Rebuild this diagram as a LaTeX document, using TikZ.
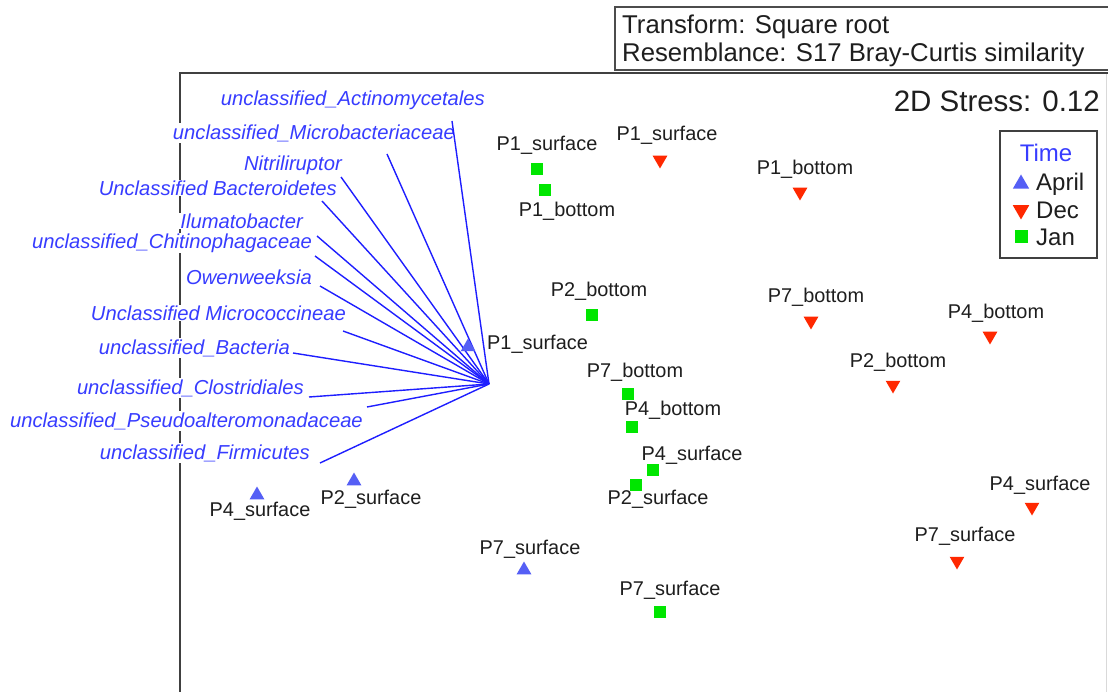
\documentclass[tikz,border=0pt]{standalone}
\usepackage{fontspec}
\setmainfont{Liberation Sans}
\usetikzlibrary{shapes.geometric}
\definecolor{vblue}{RGB}{55,60,255}
\definecolor{lblue}{RGB}{30,30,255}
\definecolor{tblue}{RGB}{85,95,245}
\definecolor{dred}{RGB}{255,40,0}
\definecolor{jgreen}{RGB}{0,230,0}
\definecolor{txt}{RGB}{30,30,30}
\begin{document}
\begin{tikzpicture}[x=1pt,y=-1pt,
  lbl/.style={font=\fontsize{19.9}{22}\selectfont, text=txt, inner sep=0pt},
  vlbl/.style={font=\fontsize{20.2}{22}\selectfont\itshape, text=vblue, fill=white, inner sep=1pt, anchor=east},
  vec/.style={draw=lblue, line width=1.4pt},
  sqm/.style={rectangle, fill=jgreen, minimum size=12pt, inner sep=0pt},
  upm/.style={regular polygon, regular polygon sides=3, fill=tblue, minimum size=17pt, inner sep=0pt},
  dnm/.style={regular polygon, regular polygon sides=3, shape border rotate=180, fill=dred, minimum size=17pt, inner sep=0pt},
  frame/.style={draw=black!75, line width=1.6pt},
  ttl/.style={font=\fontsize{25.7}{28}\selectfont, text=txt, anchor=west, inner sep=0pt},
  legtxt/.style={font=\fontsize{24}{26}\selectfont, text=txt, anchor=west, inner sep=0pt}
]
\useasboundingbox (0,0) rectangle (1108,692);
\fill[white] (0,0) rectangle (1108,692);
% frame
\draw[frame] (180,692) -- (180,73) -- (1108,73);
\draw[black!15, line width=1pt] (1106,74) -- (1106,692);
% title box
\draw[draw=black!70, line width=1.4pt] (615,7) rectangle (1112,70);
\node[ttl] (t1) at (622,27) {Transform: Square root};
\node[ttl] (t2) at (622,55) {Resemblance: S17 Bray-Curtis similarity};
\node[font=\fontsize{29.5}{32}\selectfont, text=txt, anchor=east, inner sep=0pt] (stress) at (1100,101) {2D Stress: 0.12};
% legend
\draw[draw=black!75, line width=1.4pt] (1000,131) rectangle (1097,258);
\node[font=\fontsize{24}{26}\selectfont, text=vblue, inner sep=0pt] (lt) at (1046,153) {Time};
\node[upm, minimum size=19pt] (lma) at (1021,184) {};
\node[legtxt] (lta) at (1036,184) {April};
\node[dnm, minimum size=19pt] (lmd) at (1021,210) {};
\node[legtxt] (ltd) at (1036,210) {Dec};
\node[sqm, minimum size=13pt] (lmj) at (1021,237) {};
\node[legtxt] (ltj) at (1036,237) {Jan};
% vector labels
\node[vlbl] (v1) at (486,100) {unclassified\_Actinomycetales};
\node[vlbl] (v2) at (456,133) {unclassified\_Microbacteriaceae};
\node[vlbl] (v3) at (343,165) {Nitriliruptor};
\node[vlbl] (v4) at (338,188) {Unclassified Bacteroidetes};
\node[vlbl] (v5) at (304,221) {Ilumatobacter};
\node[vlbl] (v6) at (313,243) {unclassified\_Chitinophagaceae};
\node[vlbl] (v7) at (313,277) {Owenweeksia};
\node[vlbl] (v8) at (347,313) {Unclassified Micrococcineae};
\node[vlbl] (v9) at (291,348) {unclassified\_Bacteria};
\node[vlbl] (v10) at (305,388) {unclassified\_Clostridiales};
\node[vlbl] (v11) at (364,421) {unclassified\_Pseudoalteromonadaceae};
\node[vlbl] (v12) at (311,453) {unclassified\_Firmicutes};
% vectors
\coordinate (o) at (489,384);
\coordinate (e1) at (452,121);
\coordinate (e2) at (387,154);
\coordinate (e3) at (341,177);
\coordinate (e4) at (322,201);
\coordinate (e5) at (317,236);
\coordinate (e6) at (315,256);
\coordinate (e7) at (320,286);
\coordinate (e8) at (343,331);
\coordinate (e9) at (293,353);
\coordinate (e10) at (309,397);
\coordinate (e11) at (367,407);
\coordinate (e12) at (320,463);
\foreach \i in {1,...,12} {\draw[vec] (o) -- (e\i);}
% Jan (green squares)
\node[sqm] (j1s) at (537,169) {};
\node[lbl] (j1sl) at (547,145) {P1\_surface};
\node[sqm] (j1b) at (545,190) {};
\node[lbl] (j1bl) at (567,211) {P1\_bottom};
\node[sqm] (j2b) at (592,315) {};
\node[lbl] (j2bl) at (599,291) {P2\_bottom};
\node[sqm] (j7b) at (628,394) {};
\node[lbl] (j7bl) at (635,372) {P7\_bottom};
\node[sqm] (j4b) at (632,427) {};
\node[lbl] (j4bl) at (673,410) {P4\_bottom};
\node[sqm] (j4s) at (653,470) {};
\node[lbl] (j4sl) at (692,455) {P4\_surface};
\node[sqm] (j2s) at (636,485) {};
\node[lbl] (j2sl) at (658,499) {P2\_surface};
\node[sqm] (j7s) at (660,612) {};
\node[lbl] (j7sl) at (670,590) {P7\_surface};
% Dec (red down triangles)
\node[dnm] (d1s) at (660,160) {};
\node[lbl] (d1sl) at (667,135) {P1\_surface};
\node[dnm] (d1b) at (800,192) {};
\node[lbl] (d1bl) at (805,169) {P1\_bottom};
\node[dnm] (d7b) at (811,321) {};
\node[lbl] (d7bl) at (816,297) {P7\_bottom};
\node[dnm] (d4b) at (990,336) {};
\node[lbl] (d4bl) at (996,313) {P4\_bottom};
\node[dnm] (d2b) at (893,385) {};
\node[lbl] (d2bl) at (898,362) {P2\_bottom};
\node[dnm] (d4s) at (1032,507) {};
\node[lbl] (d4sl) at (1040,485) {P4\_surface};
\node[dnm] (d7s) at (957,561) {};
\node[lbl] (d7sl) at (965,536) {P7\_surface};
% April (blue triangles)
\node[upm] (a1s) at (468,347) {};
\node[lbl, anchor=west] (a1sl) at (487,344) {P1\_surface};
\node[upm] (a4s) at (257,495) {};
\node[lbl] (a4sl) at (260,511) {P4\_surface};
\node[upm] (a2s) at (354,481) {};
\node[lbl] (a2sl) at (371,499) {P2\_surface};
\node[upm] (a7s) at (524,570) {};
\node[lbl] (a7sl) at (530,549) {P7\_surface};
\end{tikzpicture}
\end{document}
